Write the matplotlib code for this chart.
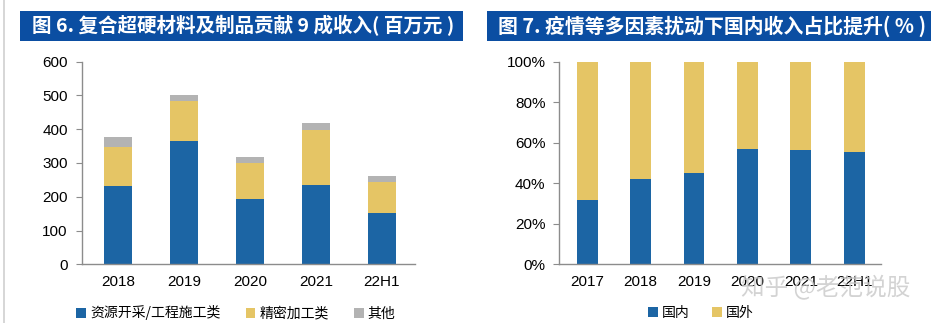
import matplotlib
matplotlib.use('Agg')
import matplotlib.pyplot as plt
from matplotlib.patches import Rectangle
from matplotlib.lines import Line2D
import numpy as np

plt.rcParams['font.family'] = ['Liberation Sans', 'Noto Sans CJK SC', 'DejaVu Sans']

# Left chart data (百万元)
years_l = ['2018', '2019', '2020', '2021', '22H1']
resource = [232, 365, 194, 236, 151]
precision = [114, 118, 106, 162, 93]
other = [31, 19, 18, 20, 18]

# Right chart data (share of domestic revenue)
years_r = ['2017', '2018', '2019', '2020', '2021', '22H1']
domestic = [0.317, 0.423, 0.452, 0.569, 0.564, 0.554]
foreign = [1 - d for d in domestic]

title_l = '图 6. 复合超硬材料及制品贡献 9 成收入( 百万元 )'
title_r = '图 7. 疫情等多因素扰动下国内收入占比提升( % )'

BLUE = '#1c65a4'
YELLOW = '#e5c565'
GRAY = '#b3b3b3'
BAR_BG = '#0b4ea2'
AX_COLOR = '#8c8c8c'

W, H = 940, 323
fig = plt.figure(figsize=(W / 100, H / 100), dpi=100)
fig.patch.set_facecolor('white')


def px_axes(x0, y0, x1, y1):
    # pixel box (top-left origin) -> axes
    return fig.add_axes([x0 / W, (H - y1) / H, (x1 - x0) / W, (y1 - y0) / H])


def style_axes(ax):
    for s in ['top', 'right']:
        ax.spines[s].set_visible(False)
    for s in ['left', 'bottom']:
        ax.spines[s].set_color(AX_COLOR)
        ax.spines[s].set_linewidth(1.0)
    ax.tick_params(axis='y', length=4, color=AX_COLOR, labelsize=11, pad=6)
    ax.tick_params(axis='x', length=0, labelsize=11, pad=8)


def title_bar(x0, x1, text, tx, tx1):
    fig.patches.append(Rectangle((x0 / W, (H - 41) / H), (x1 - x0) / W, 30 / H,
                                 transform=fig.transFigure, facecolor=BAR_BG,
                                 edgecolor='none'))
    t = fig.text(tx / W, (H - 26) / H, text, color='white', fontsize=15,
                 fontweight='bold', ha='left', va='center',
                 family=['Noto Sans CJK SC', 'DejaVu Sans'])
    # squeeze the title to the width it takes in the original
    fig.canvas.draw()
    w = t.get_window_extent().width
    t.set_fontsize(15 * (tx1 - tx) / w)


# left page border line
fig.add_artist(Line2D([3.5 / W, 3.5 / W], [0, 1], color='#d0d0d0', lw=1.2))

title_bar(20, 463, title_l, 32, 456)
title_bar(487, 931, title_r, 498, 927)

# Left chart
ax1 = px_axes(81.7, 61.7, 415, 264.3)
x = np.arange(len(years_l))
bw = 0.41
ax1.bar(x, resource, bw, color=BLUE, label='资源开采/工程施工类')
ax1.bar(x, precision, bw, bottom=resource, color=YELLOW, label='精密加工类')
ax1.bar(x, other, bw, bottom=np.add(resource, precision), color=GRAY, label='其他')
ax1.set_ylim(0, 600)
ax1.set_yticks(range(0, 601, 100))
ax1.set_xlim(-0.55, 4.5)
ax1.set_xticks(x)
ax1.set_xticklabels(years_l)
style_axes(ax1)
ax1.legend(loc='center', bbox_to_anchor=(236 / W, (H - 313) / H),
           bbox_transform=fig.transFigure, ncol=3, frameon=False,
           handlelength=0.7, handleheight=0.7, handletextpad=0.3,
           columnspacing=1.8, borderpad=0,
           prop={'family': 'Noto Sans CJK SC', 'size': 10})

# Right chart
ax2 = px_axes(559.3, 61.7, 881, 264.3)
x2 = np.arange(len(years_r))
bw2 = 0.39
ax2.bar(x2, domestic, bw2, color=BLUE, label='国内')
ax2.bar(x2, foreign, bw2, bottom=domestic, color=YELLOW, label='国外')
ax2.set_ylim(0, 1)
ax2.set_yticks(np.linspace(0, 1, 6))
ax2.set_yticklabels([f'{int(round(v * 100))}%' for v in np.linspace(0, 1, 6)])
ax2.set_xlim(-0.52, 5.5)
ax2.set_xticks(x2)
ax2.set_xticklabels(years_r)
style_axes(ax2)
ax2.legend(loc='center', bbox_to_anchor=(701 / W, (H - 313) / H),
           bbox_transform=fig.transFigure, ncol=2, frameon=False,
           handlelength=0.7, handleheight=0.7, handletextpad=0.3,
           columnspacing=1.6, borderpad=0,
           prop={'family': 'Noto Sans CJK SC', 'size': 10})

# watermark
fig.text(826 / W, (H - 288) / H, '知乎 @老范说股', color='#c8c8c8', alpha=0.8,
         fontsize=17, ha='center', va='center',
         family=['Noto Sans CJK SC', 'DejaVu Sans'])

fig.savefig('out.png', dpi=100, facecolor='white')
